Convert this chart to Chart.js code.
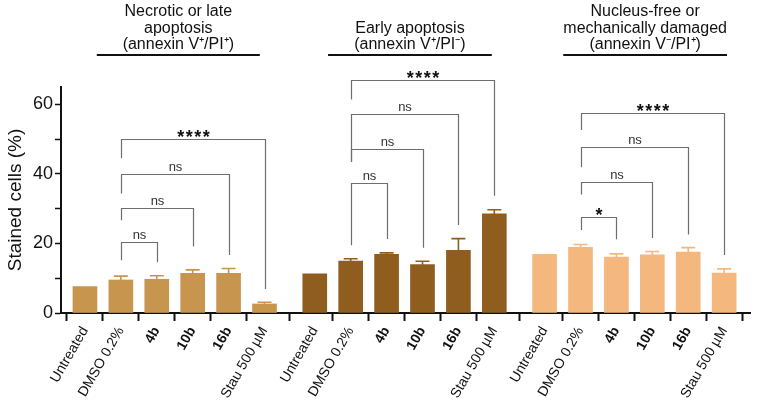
<!DOCTYPE html>
<html>
<head>
<meta charset="utf-8">
<script src="https://cdn.jsdelivr.net/npm/chart.js@4.4.1/dist/chart.umd.min.js"></script>
<style>
  body { margin: 0; background: #fff; }
  canvas { display: block; }
</style>
</head>
<body>
<canvas id="chart" width="758" height="406"></canvas>
<script>
// categories and series
const treatments = ['Untreated', 'DMSO 0.2%', '4b', '10b', '16b', 'Stau 500 µM'];
const boldTreatments = ['4b', '10b', '16b'];
const groupTitles = [
    ['Necrotic or late', 'apoptosis', '(annexin V⁺/PI⁺)'],
    ['Early apoptosis', '(annexin V⁺/PI⁻)'],
    ['Nucleus-free or', 'mechanically damaged', '(annexin V⁻/PI⁺)']
];
const lateApoptosis = [7.6, 9.5, 9.7, 11.4, 11.4, 2.6];
const lateApoptosisSem = [0, 1.1, 1.0, 1.0, 1.4, 0.5];
const earlyApoptosis = [11.3, 14.9, 16.9, 13.9, 18.0, 28.5];
const earlyApoptosisSem = [0, 0.7, 0.4, 1.0, 3.4, 1.2];
const damaged = [16.9, 18.9, 16.1, 16.7, 17.5, 11.5];
const damagedSem = [0, 0.8, 0.9, 1.0, 1.3, 1.2];
const groupColors = ['#C8954F', '#8F5E1F', '#F4B77D'];

// significance brackets: DMSO vs index in bracketTo
const bracketTo = [2, 3, 4, 5];
const lateBracketTop = [20.5, 30.1, 40.1, 50.0];
const lateBracketLeft = [15.2, 26.7, 34.4, 44.5];
const lateBracketRight = [14.6, 19.1, 16.7, 6.9];
const lateBracketLabel = ['ns', 'ns', 'ns', '****'];
const earlyBracketTop = [37.4, 47.3, 57.1, 67.0];
const earlyBracketLeft = [19.5, 43.5, 43.5, 61.4];
const earlyBracketRight = [21.3, 18.8, 25.3, 33.7];
const earlyBracketLabel = ['ns', 'ns', 'ns', '****'];
const damagedBracketTop = [27.5, 37.7, 47.6, 57.4];
const damagedBracketLeft = [23.9, 34.1, 41.9, 52.6];
const damagedBracketRight = [21.2, 21.6, 22.6, 16.7];
const damagedBracketLabel = ['*', 'ns', 'ns', '****'];

const groupSpacing = 6.4;
const titleStart = [0.33, 0.37, 0.52];
const titleEnd = [4.87, 4.93, 5.08];

const seriesValues = [lateApoptosis, earlyApoptosis, damaged];
const seriesSem = [lateApoptosisSem, earlyApoptosisSem, damagedSem];
const brackets = [
    [lateBracketTop, lateBracketLeft, lateBracketRight, lateBracketLabel],
    [earlyBracketTop, earlyBracketLeft, earlyBracketRight, earlyBracketLabel],
    [damagedBracketTop, damagedBracketLeft, damagedBracketRight, damagedBracketLabel]
];

function xOf(g, i) {
    return g * groupSpacing + i;
}

const tickPositions = [];
const tickLabels = [];
for (let g = 0; g < 3; g++) {
    for (let i = 0; i < treatments.length; i++) {
        tickPositions.push(xOf(g, i));
        tickLabels.push(treatments[i]);
    }
}

const datasets = seriesValues.map((vals, g) => ({
    data: vals.map((v, i) => ({x: xOf(g, i), y: v})),
    backgroundColor: groupColors[g],
    barThickness: 24,
    grouped: false
}));

const errorBars = {
    id: 'errorBars',
    afterDatasetsDraw(chart) {
        const ctx = chart.ctx;
        const y = chart.scales.y;
        chart.data.datasets.forEach((ds, g) => {
            const meta = chart.getDatasetMeta(g);
            meta.data.forEach((bar, i) => {
                const sem = seriesSem[g][i];
                if (!sem) return;
                const top = y.getPixelForValue(seriesValues[g][i] + sem);
                ctx.save();
                ctx.strokeStyle = groupColors[g];
                ctx.lineWidth = 1.6;
                ctx.beginPath();
                ctx.moveTo(bar.x, bar.y);
                ctx.lineTo(bar.x, top);
                ctx.moveTo(bar.x - 7, top);
                ctx.lineTo(bar.x + 7, top);
                ctx.stroke();
                ctx.restore();
            });
        });
    }
};

const annotations = {
    id: 'annotations',
    afterDraw(chart) {
        const ctx = chart.ctx;
        const x = chart.scales.x;
        const y = chart.scales.y;
        ctx.save();
        // brackets
        brackets.forEach((b, g) => {
            const [tops, lefts, rights, labels] = b;
            const x1 = Math.round(x.getPixelForValue(xOf(g, 1))) + 0.5;
            tops.forEach((t, k) => {
                const x2 = Math.round(x.getPixelForValue(xOf(g, bracketTo[k]))) + 0.5;
                const yt = Math.round(y.getPixelForValue(t)) + 0.5;
                ctx.strokeStyle = '#6e6e6e';
                ctx.lineWidth = 1.2;
                ctx.beginPath();
                ctx.moveTo(x1, y.getPixelForValue(lefts[k]));
                ctx.lineTo(x1, yt);
                ctx.lineTo(x2, yt);
                ctx.lineTo(x2, y.getPixelForValue(rights[k]));
                ctx.stroke();
                const label = labels[k];
                ctx.textAlign = 'center';
                if (label === 'ns') {
                    ctx.fillStyle = '#333';
                    ctx.font = '13px "Liberation Sans", Arial, sans-serif';
                    ctx.textBaseline = 'middle';
                    ctx.letterSpacing = '0px';
                    ctx.fillText(label, (x1 + x2) / 2, yt - 7);
                } else {
                    ctx.fillStyle = '#111';
                    ctx.font = 'bold 18px "Liberation Sans", Arial, sans-serif';
                    ctx.textBaseline = 'alphabetic';
                    ctx.letterSpacing = '1.5px';
                    ctx.fillText(label, (x1 + x2) / 2 + 0.75, yt + 3);
                }
            });
        });
        // group titles
        ctx.letterSpacing = '0px';
        groupTitles.forEach((lines, g) => {
            const a = x.getPixelForValue(xOf(g, titleStart[g]));
            const b = x.getPixelForValue(xOf(g, titleEnd[g]));
            const cx = (a + b) / 2;
            ctx.fillStyle = '#111';
            ctx.font = '16px "Liberation Sans", Arial, sans-serif';
            ctx.textAlign = 'center';
            ctx.textBaseline = 'middle';
            lines.forEach((line, k) => {
                const ly = 45 - (lines.length - 1 - k) * 16.5;
                ctx.fillText(line, cx, ly);
            });
            ctx.strokeStyle = '#111';
            ctx.lineWidth = 2;
            ctx.beginPath();
            ctx.moveTo(a, 55);
            ctx.lineTo(b, 55);
            ctx.stroke();
        });
        ctx.restore();
    }
};

Chart.defaults.font.family = '"Liberation Sans", Arial, sans-serif';
Chart.defaults.color = '#111';

new Chart(document.getElementById('chart'), {
    type: 'bar',
    data: { datasets: datasets },
    plugins: [errorBars, annotations],
    options: {
        responsive: false,
        animation: false,
        layout: { padding: { top: 87, right: 8, left: 0, bottom: 0 } },
        plugins: { legend: { display: false }, tooltip: { enabled: false } },
        scales: {
            x: {
                type: 'linear',
                min: -0.667,
                max: 18.52,
                offset: false,
                afterBuildTicks: (axis) => {
                    axis.ticks = tickPositions.map(v => ({ value: v }));
                },
                afterFit: (scale) => { scale.height = 93; },
                grid: {
                    drawOnChartArea: false,
                    drawTicks: true,
                    tickLength: 8,
                    tickWidth: 2,
                    tickColor: '#111'
                },
                border: { display: true, color: '#111', width: 2 },
                ticks: {
                    autoSkip: false,
                    minRotation: 60,
                    maxRotation: 60,
                    padding: 3,
                    color: '#111',
                    callback: (value, index) => tickLabels[index],
                    font: (ctx) => ({
                        size: 14,
                        weight: boldTreatments.includes(tickLabels[ctx.index]) ? 'bold' : 'normal'
                    })
                }
            },
            y: {
                min: 0,
                max: 65,
                afterFit: (scale) => { scale.width = 61; },
                grid: {
                    drawOnChartArea: false,
                    drawTicks: true,
                    tickLength: 6,
                    tickWidth: 1.5,
                    tickColor: '#111'
                },
                border: { display: true, color: '#111', width: 2 },
                ticks: {
                    stepSize: 5,
                    padding: 2,
                    color: '#111',
                    font: { size: 18 },
                    callback: (v) => (v % 20 === 0 ? v : '')
                },
                title: {
                    display: true,
                    text: 'Stained cells (%)',
                    color: '#111',
                    font: { size: 19 },
                    padding: { top: 4, bottom: 0 }
                }
            }
        }
    }
});
</script>
</body>
</html>
